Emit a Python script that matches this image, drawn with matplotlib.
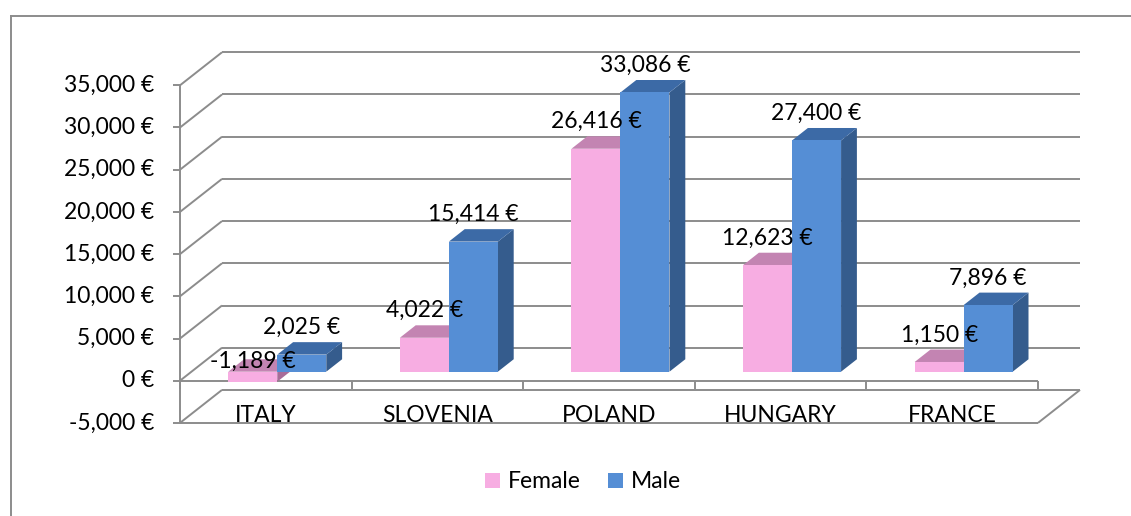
import numpy as np
import matplotlib.pyplot as plt
from matplotlib.patches import Polygon, Patch
from matplotlib.lines import Line2D

plt.rcParams['font.family'] = ['Lato', 'DejaVu Sans']

# data
countries = ['ITALY', 'SLOVENIA', 'POLAND', 'HUNGARY', 'FRANCE']
female = [-1189, 4022, 26416, 12623, 1150]
male = [2025, 15414, 33086, 27400, 7896]
yticks = [-5000, 0, 5000, 10000, 15000, 20000, 25000, 30000, 35000]

W, H = 1131, 516
PX_X = 171.6            # px per category
PX_Y = 42.2 / 5000      # px per euro
X0, Y0 = 180, 380.7     # pixel position of (0, 0) on the front plane
FS = 16.5

fig = plt.figure(figsize=(W / 100, H / 100), dpi=100)
ax = fig.add_axes([0, 0, 1, 1])
ax.set_xlim(-X0 / PX_X, (W - X0) / PX_X)
ax.set_ylim((Y0 - H) / PX_Y, Y0 / PX_Y)
ax.axis('off')

# depth of the 3d box, in data units
DX = 42 / PX_X
DY = 33 / PX_Y
grid = dict(color='#8c8c8c', lw=1.4, solid_capstyle='butt', zorder=1)
ymin, ymax = yticks[0], yticks[-1]
n = len(countries)

# walls and gridlines
for t in yticks:
    ax.plot([DX, n + DX], [t + DY, t + DY], **grid)
    ax.plot([0, DX], [t, t + DY], **grid)
    ax.plot([-7 / PX_X, 0], [t, t], **grid)
    lab = f'{t:,} €'
    ax.text(-26 / PX_X, t, lab, ha='right', va='center', fontsize=FS)
ax.plot([0, 0], [ymin, ymax], **grid)
ax.plot([0, n], [ymin, ymin], **grid)
ax.plot([n, n + DX], [ymin, ymin + DY], **grid)

# category axis
ax.plot([0, n], [0, 0], **grid)
for i in range(n + 1):
    ax.plot([i, i], [0, -8 / PX_Y], **grid)
for i, c in enumerate(countries):
    ax.text(i + 0.5, -4064, c, ha='center', va='center', fontsize=FS)

# bars
BW = 49 / PX_X
F0, F1 = 0.273, 0.65
pink = ('#f7ade2', '#c384b2', '#a86c98')
blue = ('#558ed5', '#3c6aa6', '#355c8d')


def draw_bar(xl, v, cols):
    lo, hi = min(0, v), max(0, v)
    fx, fy = F0 * DX, F0 * DY
    bx, by = F1 * DX, F1 * DY
    front = [(xl + fx, lo + fy), (xl + BW + fx, lo + fy), (xl + BW + fx, hi + fy), (xl + fx, hi + fy)]
    top = [(xl + fx, hi + fy), (xl + BW + fx, hi + fy), (xl + BW + bx, hi + by), (xl + bx, hi + by)]
    side = [(xl + BW + fx, lo + fy), (xl + BW + bx, lo + by), (xl + BW + bx, hi + by), (xl + BW + fx, hi + fy)]
    ax.add_patch(Polygon(side, closed=True, fc=cols[2], ec='none', zorder=3))
    ax.add_patch(Polygon(top, closed=True, fc=cols[1], ec='none', zorder=3))
    ax.add_patch(Polygon(front, closed=True, fc=cols[0], ec='none', zorder=3))
    # value label
    lx = xl + fx + BW / 2
    ly = v + fy + (27 / PX_Y if v >= 0 else 20 / PX_Y)
    ax.text(lx, ly, f'{v:,} €', ha='center', va='center', fontsize=FS, zorder=5)


for i in range(n):
    c = i + 0.5
    draw_bar(c - BW, female[i], pink)
    draw_bar(c, male[i], blue)

# legend
handles = [Patch(facecolor=pink[0]), Patch(facecolor=blue[0])]
ax.legend(handles, ['Female', 'Male'], loc='center', bbox_to_anchor=(583 / W, 1 - 482 / H),
          ncol=2, frameon=False, handlelength=0.65, handleheight=0.65, handletextpad=0.35,
          columnspacing=1.2, fontsize=FS)

# chart border
fig.add_artist(Line2D([11 / W, 11 / W], [0, 1 - 16 / H], color='#8c8c8c', lw=1.4))
fig.add_artist(Line2D([11 / W, 1], [1 - 16 / H, 1 - 16 / H], color='#8c8c8c', lw=1.4))

plt.savefig('out.png', dpi=100)
